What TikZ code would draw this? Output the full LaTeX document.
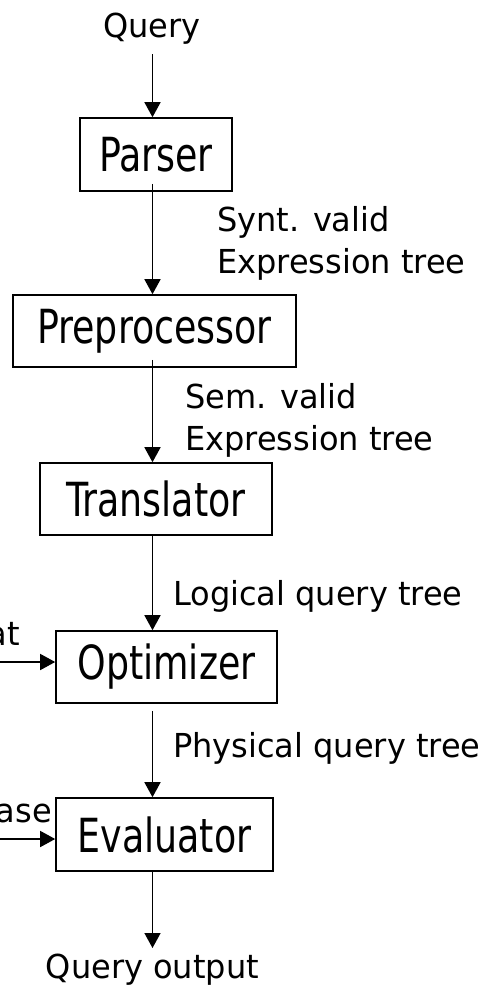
\documentclass[tikz,border=0pt]{standalone}
\usepackage{fontspec}
\usetikzlibrary{arrows.meta}
% Box captions are set narrow, connector labels almost at natural width
\newfontfamily\boxfont[FakeStretch=0.86]{DejaVu Sans Condensed}
\newfontfamily\labfont[FakeStretch=0.97]{DejaVu Sans}
\tikzset{
  stage/.style={draw, line width=1.6pt, rectangle, inner sep=0pt,
    font=\boxfont\fontsize{47}{56}\selectfont},
  flowlabel/.style={anchor=base west, inner sep=0pt,
    font=\labfont\fontsize{33}{42}\selectfont},
  endlabel/.style={anchor=base, inner sep=0pt,
    font=\labfont\fontsize{33}{42}\selectfont},
  flow/.style={line width=1.5pt, -{Triangle[length=15pt,width=16pt]}}
}
\begin{document}
\begin{tikzpicture}[x=1pt,y=-1pt]
\useasboundingbox (0,0) rectangle (489,988);
\coordinate (spine) at (152.5,0);

% pipeline stages
\node[stage, minimum width=152pt, minimum height=73pt] (parser) at (156,154.5) {Parser};
\node[stage, minimum width=283pt, minimum height=72pt] (prep) at (154.5,331) {Preprocessor};
\node[stage, minimum width=232pt, minimum height=72pt] (trans) at (156,499) {Translator};
\node[stage, minimum width=221pt, minimum height=72pt] (opt) at (166.5,667) {Optimizer};
\node[stage, minimum width=217pt, minimum height=73pt] (eval) at (164.5,834.5) {Evaluator};

% input and output
\node[endlabel] (query) at (152,37) {Query};
\node[endlabel] (out) at (152.5,978) {Query output};

% side inputs entering from the left edge
\node[anchor=base east, inner sep=0pt, font=\labfont\fontsize{33}{42}\selectfont] (stat) at (20,645) {at};
\node[anchor=base east, inner sep=0pt, font=\labfont\fontsize{33}{42}\selectfont] (db) at (52,822) {ase};
\coordinate (statin) at (-2,662);
\coordinate (dbin) at (-2,839);

% connector labels
\node[flowlabel] (syntA) at (217,231) {Synt. valid};
\node[flowlabel] (syntB) at (217,273) {Expression tree};
\node[flowlabel] (semA) at (185,408) {Sem. valid};
\node[flowlabel] (semB) at (185,450) {Expression tree};
\node[flowlabel] (logi) at (173,605) {Logical query tree};
\node[flowlabel] (phys) at (173,757) {Physical query tree};

% connectors
\draw[flow] ([yshift=-17pt]query.base -| spine) -- (parser.north -| spine);
\draw[flow] ([yshift=8pt]parser.south -| spine) -- (prep.north -| spine);
\draw[flow] ([yshift=8pt]prep.south -| spine) -- (trans.north -| spine);
\draw[flow] (trans.south -| spine) -- (opt.north -| spine);
\draw[flow] ([yshift=-7pt]opt.south -| spine) -- (eval.north -| spine);
\draw[flow] (eval.south -| spine) -- ([yshift=30pt]out.base -| spine);
\draw[flow] (statin) -- (statin -| opt.west);
\draw[flow] (dbin) -- (dbin -| eval.west);
\end{tikzpicture}
\end{document}
